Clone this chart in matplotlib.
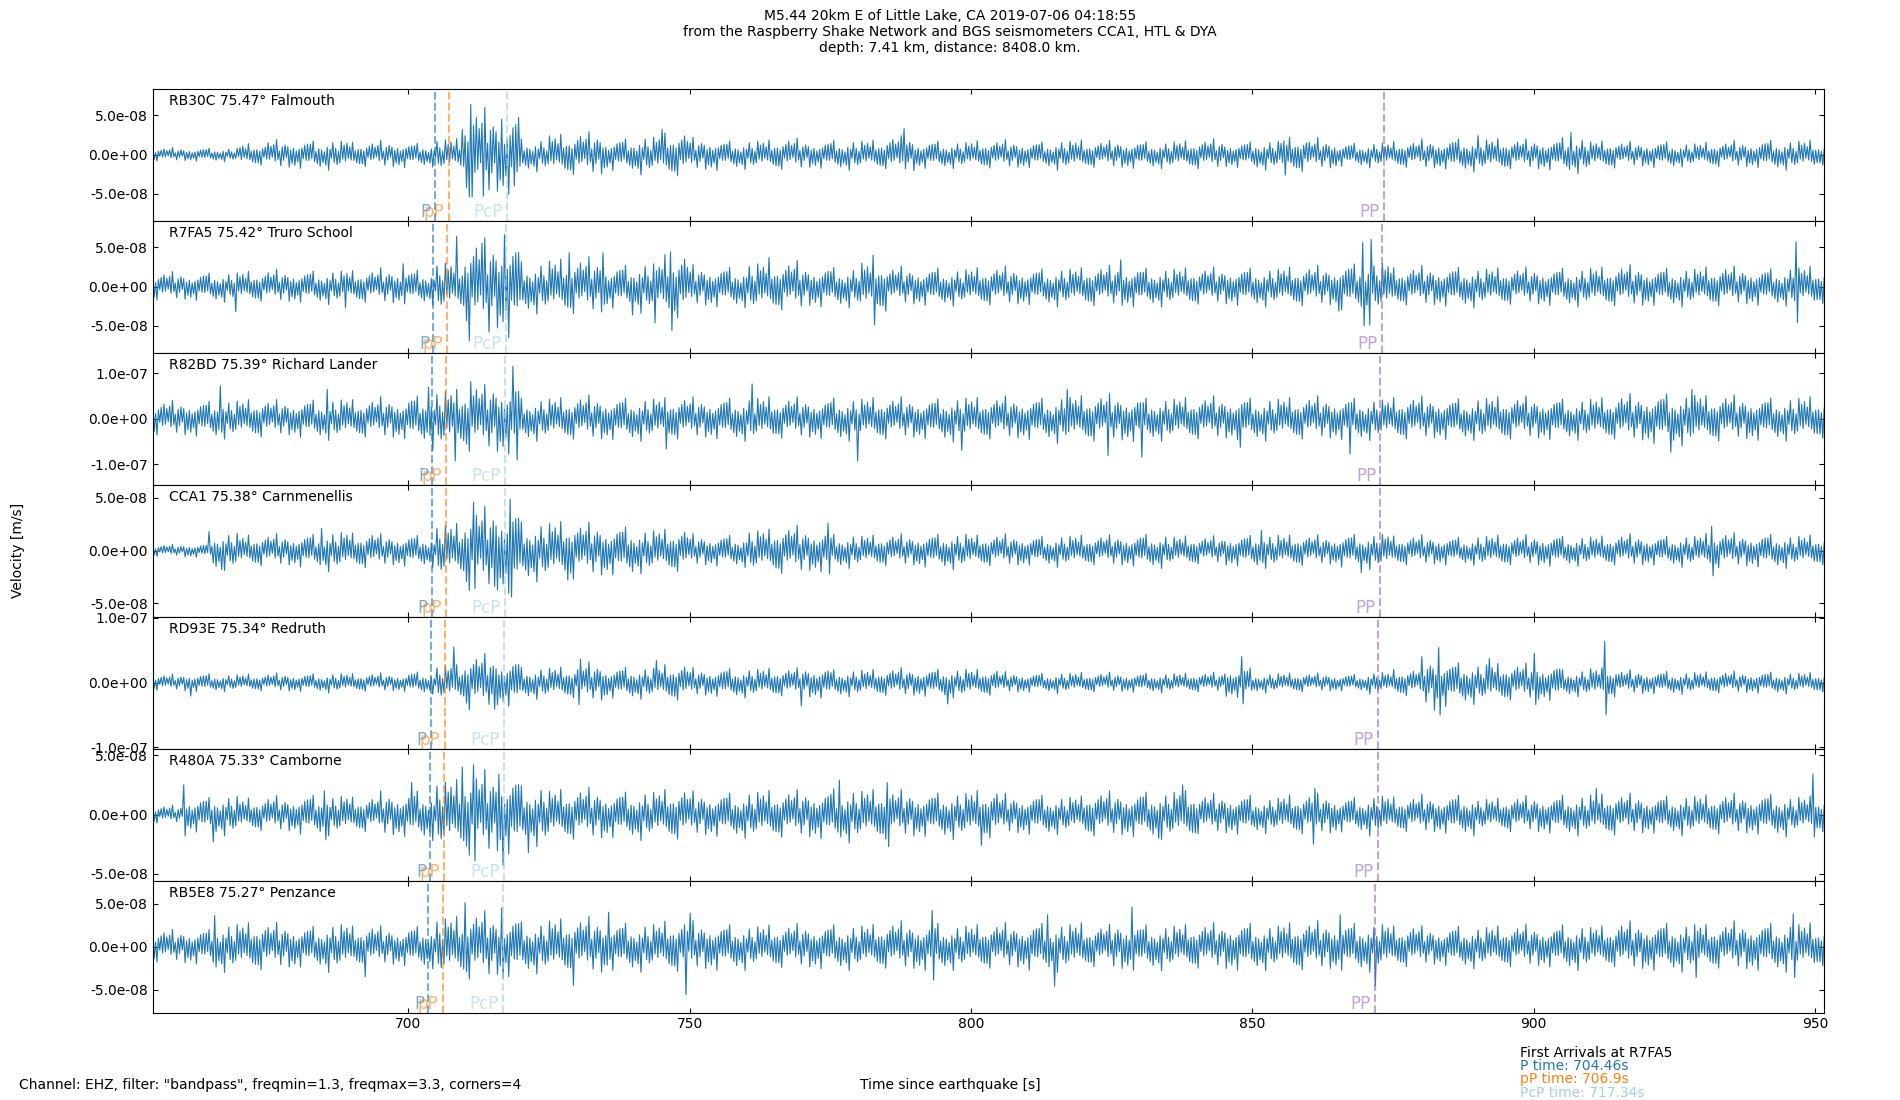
import numpy as np
import matplotlib
matplotlib.use("Agg")
import matplotlib.pyplot as plt
from matplotlib.ticker import FormatStrFormatter, MultipleLocator

# Stations, top to bottom
stations = ["RB30C", "R7FA5", "R82BD", "CCA1", "RD93E", "R480A", "RB5E8"]
distances = [75.47, 75.42, 75.39, 75.38, 75.34, 75.33, 75.27]
places = ["Falmouth", "Truro School", "Richard Lander", "Carnmenellis", "Redruth", "Camborne", "Penzance"]

# Phase arrival times [s] (dashed lines)
p_times = [704.75, 704.46, 704.29, 704.23, 704.00, 703.94, 703.59]
pp_depth_times = [707.17, 706.90, 706.74, 706.68, 706.47, 706.41, 706.09]
pcp_times = [717.53, 717.34, 717.23, 717.19, 717.04, 717.01, 716.79]
pp_times = [873.42, 873.00, 872.75, 872.67, 872.34, 872.25, 871.76]

# y-limit and tick step per panel, in 1e-8 m/s
y_limits = [8.4, 8.4, 14.5, 6.26, 10.2, 5.56, 7.68]
y_steps = [5, 5, 10, 5, 10, 5, 5]

# Trace envelope: peak velocity (1e-8 m/s) in 5 s windows starting at 655 s
env_start = 655.0
env_step = 5.0
env_rb30c = [0.9, 0.9, 0.9, 1.5, 1.9, 1.9, 2.0, 1.7, 1.8, 1.6,
             2.2, 6.0, 5.5, 2.2, 2.8, 2.9, 2.2, 2.6, 3.0, 2.2,
             1.9, 2.0, 2.1, 1.9, 2.0, 2.0, 2.4, 1.9, 1.8, 1.9,
             1.9, 1.8, 2.0, 1.8, 1.9, 1.8, 1.9, 2.0, 1.8, 2.0,
             2.4, 2.0, 1.6, 1.7, 1.8, 2.0, 2.2, 2.2, 2.0, 2.1,
             2.4, 1.9, 1.7, 1.8, 1.6, 1.7, 1.8, 2.0, 2.0, 1.5]
env_r7fa5 = [1.9, 1.9, 2.0, 2.1, 2.2, 2.2, 2.3, 2.2, 2.4, 2.3,
             3.5, 6.2, 6.2, 3.5, 3.8, 3.8, 3.0, 3.4, 4.4, 2.8,
             2.7, 3.4, 3.3, 2.8, 2.7, 3.5, 2.6, 2.6, 2.5, 2.6,
             2.6, 2.5, 2.6, 2.7, 2.8, 2.6, 2.6, 2.5, 2.6, 2.6,
             2.7, 2.7, 3.2, 3.5, 2.6, 2.7, 2.7, 2.6, 2.5, 2.6,
             2.6, 2.7, 2.8, 2.6, 2.6, 2.7, 2.6, 2.5, 2.8, 2.4]
env_r82bd = [4.0, 4.2, 4.5, 4.5, 4.2, 4.5, 4.8, 4.5, 4.8, 5.5,
             7.0, 8.0, 8.5, 5.0, 5.0, 5.2, 5.0, 5.0, 5.0, 4.8,
             5.0, 5.2, 4.8, 4.8, 5.0, 5.0, 4.8, 4.8, 5.2, 5.0,
             5.0, 5.0, 5.5, 5.5, 5.5, 5.0, 5.0, 5.0, 5.0, 5.0,
             5.0, 5.0, 5.0, 4.8, 5.0, 5.0, 4.8, 5.2, 5.0, 5.0,
             4.8, 5.0, 5.5, 6.0, 6.0, 5.5, 5.2, 5.0, 5.2, 4.8]
env_cca1 = [0.6, 0.7, 1.9, 1.6, 1.6, 1.7, 2.0, 1.8, 1.6, 1.6,
            2.8, 4.2, 4.4, 3.0, 3.0, 2.7, 2.5, 2.2, 2.2, 1.6,
            1.6, 2.2, 2.4, 2.2, 1.7, 1.6, 1.6, 1.7, 1.8, 1.6,
            1.6, 1.5, 1.6, 1.5, 1.6, 1.7, 1.5, 1.4, 1.6, 1.7,
            1.6, 1.5, 1.7, 1.8, 1.5, 1.5, 1.4, 1.6, 1.5, 1.6,
            1.5, 1.5, 1.6, 1.5, 1.6, 1.8, 1.7, 1.7, 1.6, 1.5]
env_rd93e = [1.3, 1.5, 1.4, 1.4, 1.5, 1.5, 1.6, 1.5, 1.5, 1.8,
             3.0, 4.5, 4.0, 2.6, 2.6, 3.2, 2.6, 2.6, 3.0, 2.3,
             2.4, 2.4, 2.3, 2.6, 2.2, 2.2, 2.3, 2.3, 2.4, 2.2,
             1.7, 1.6, 1.7, 1.6, 1.6, 1.6, 1.6, 1.6, 2.5, 1.6,
             1.6, 1.5, 1.4, 1.8, 2.2, 4.0, 3.4, 3.2, 3.0, 3.0,
             2.2, 2.5, 2.0, 1.9, 1.8, 1.8, 1.8, 1.8, 1.7, 1.6]
env_r480a = [0.8, 1.6, 1.8, 1.5, 1.6, 1.8, 1.8, 1.6, 2.0, 2.2,
             3.2, 3.8, 3.6, 2.7, 2.3, 2.3, 2.1, 2.2, 2.3, 2.0,
             2.0, 2.2, 2.1, 2.2, 2.4, 2.3, 2.1, 2.0, 2.1, 2.2,
             1.8, 1.8, 1.7, 2.0, 2.0, 2.1, 2.2, 1.8, 1.8, 1.6,
             1.8, 1.8, 1.6, 1.8, 1.6, 1.7, 1.8, 1.5, 1.6, 1.7,
             1.8, 1.9, 1.8, 1.7, 1.8, 1.8, 1.8, 1.9, 1.7, 1.6]
env_rb5e8 = [2.0, 2.2, 3.0, 3.0, 2.8, 2.6, 3.0, 2.6, 2.4, 2.6,
             3.8, 4.2, 3.8, 3.2, 3.5, 3.5, 3.0, 3.0, 3.2, 3.0,
             2.8, 2.7, 2.7, 2.8, 2.8, 2.8, 3.0, 3.0, 2.8, 2.8,
             2.8, 3.0, 3.0, 2.6, 3.0, 2.8, 2.8, 2.8, 3.0, 2.8,
             3.0, 3.0, 3.0, 3.0, 2.6, 2.4, 2.6, 2.6, 2.6, 2.6,
             2.8, 2.6, 3.0, 3.0, 3.0, 2.8, 3.0, 3.0, 3.0, 2.5]

# Largest single swings: (time s, velocity 1e-8 m/s)
spikes_rb30c = [(709.5, 3.2), (710.9, 6.4), (711.6, -5.4), (713.2, -5.3), (716.8, 4.5),
                (719.0, -4.0), (719.4, 4.7), (745.2, 3.2), (788.3, 3.3), (856.1, -2.6),
                (861.6, 2.2), (890.2, 2.4), (906.7, 2.8)]
spikes_r7fa5 = [(669.6, -3.2), (688.8, -2.7), (699.2, 2.9), (708.6, 6.4), (711.1, -6.9),
                (713.0, 5.5), (714.5, -5.8), (717.3, 6.6), (717.7, -6.5), (728.7, 4.3),
                (734.5, 4.3), (739.8, -3.6), (744.1, -4.6), (746.5, 4.4), (746.8, -5.6),
                (764.2, 3.7), (782.5, 4.0), (782.8, -4.9), (826.4, 3.4), (865.3, -3.1),
                (869.4, 5.6), (869.8, -5.0), (870.8, -4.9), (871.2, 6.0), (946.4, 5.7),
                (946.7, -4.6)]
spikes_r82bd = [(666.4, 7.2), (685.7, 6.4), (703.8, 6.9), (704.5, -7.0), (708.2, -9.3),
                (710.9, 8.1), (713.5, 7.5), (718.5, 11.5), (719.5, -9.1), (745.7, -6.7),
                (761.1, 7.6), (779.8, -9.3), (798.6, -7.0), (817.3, 6.4), (824.2, -8.1),
                (830.6, -8.5), (848.0, -6.3), (867.3, -7.8), (924.4, -7.4), (927.9, 6.4)]
spikes_cca1 = [(664.7, 1.8), (666.9, -1.8), (684.7, 2.1), (711.6, 4.6), (712.0, -3.6),
               (715.5, -3.4), (718.1, 4.9), (718.5, -4.4), (728.5, -2.8), (774.6, 2.6),
               (774.9, -2.2), (851.8, 1.9), (869.2, -2.1), (931.7, 2.3), (932.0, -2.4)]
spikes_rd93e = [(661.2, -2.1), (708.2, 5.5), (710.9, -4.2), (715.2, -4.1), (730.2, -3.4),
                (730.6, 3.6), (744.3, 3.4), (769.8, -3.6), (795.8, -3.3), (848.0, 4.0),
                (848.3, -3.3), (882.2, -4.3), (883.1, 5.4), (883.4, -5.0), (891.9, 3.7),
                (900.3, 4.5), (900.6, -3.4), (912.6, 6.4), (912.9, -5.0)]
spikes_r480a = [(660.0, 2.5), (660.3, -1.8), (665.3, -2.3), (685.0, 2.0), (685.3, -2.1),
                (700.4, 2.7), (709.5, 4.0), (711.4, 4.2), (711.8, -3.9), (716.3, 3.4),
                (716.7, -4.3), (721.5, -3.2), (776.8, 2.9), (785.0, 2.7), (785.3, -2.7),
                (801.8, -2.6), (833.2, -2.0), (837.8, 2.5), (860.8, -2.5), (861.1, 2.2),
                (911.2, 2.2), (949.4, 3.4), (949.7, -1.9)]
spikes_rb5e8 = [(665.7, 3.6), (692.3, -3.5), (710.3, 5.1), (716.8, 4.5), (717.1, -3.7),
                (729.4, -4.5), (735.6, 4.0), (749.6, -5.6), (749.9, 3.9), (793.3, 4.2),
                (793.6, -3.9), (813.7, 3.7), (814.8, -4.6), (828.7, 4.6), (865.6, 3.7),
                (872.1, -4.6), (928.8, -3.6), (946.1, 3.8), (946.4, -3.6)]

envelopes = [env_rb30c, env_r7fa5, env_r82bd, env_cca1, env_rd93e, env_r480a, env_rb5e8]
spikes = [spikes_rb30c, spikes_r7fa5, spikes_r82bd, spikes_cca1, spikes_rd93e, spikes_r480a, spikes_rb5e8]

# relative swing sizes used to fill the envelope between the read peaks
carrier = [0.40, 0.70, 0.27, 0.90, 0.48, 0.21, 0.62, 0.38, 0.79, 0.31, 0.55, 0.17, 0.67,
           0.45, 1.0, 0.33, 0.24, 0.75, 0.51, 0.39, 0.64, 0.20, 0.53, 0.85, 0.29, 0.59,
           0.42, 0.72, 0.24, 0.49, 0.35, 0.92, 0.44, 0.28, 0.62, 0.38, 0.69]
half_period = 0.25
t_start, t_end = 654.6, 951.5

ref_station = "R7FA5"
ref_p, ref_pp, ref_pcp = 704.46, 706.9, 717.34

phase_colors = {"P": "#1f77b4", "pP": "#ff7f0e", "PcP": "#a6cee3", "PP": "#9467bd"}


def build_trace(env, spk):
    t = np.arange(t_start, t_end + half_period, half_period)
    k = np.arange(len(t))
    sign = np.where(k % 2 == 0, 1.0, -1.0)
    win = np.clip(((t - env_start) // env_step).astype(int), 0, len(env) - 1)
    v = sign * np.array(carrier)[k % len(carrier)] * np.array(env)[win]
    for ts, vs in spk:
        i = int(round((ts - t_start) / half_period))
        if (i % 2 == 0) != (vs > 0):
            i = i + 1 if ts > t[i] else i - 1
        v[i] = vs
    return t, v * 1e-8


fig, axes = plt.subplots(len(stations), 1, sharex=True, figsize=(19, 11), dpi=100)
fig.subplots_adjust(left=0.0804, right=0.9598, top=0.9195, bottom=0.0795, hspace=0)

for n, ax in enumerate(axes):
    t, v = build_trace(envelopes[n], spikes[n])
    ax.plot(t, v, color="#1f77b4", lw=0.8)
    lim = y_limits[n] * 1e-8
    ax.set_ylim(-lim, lim)
    ax.yaxis.set_major_locator(MultipleLocator(y_steps[n] * 1e-8))
    ax.yaxis.set_major_formatter(FormatStrFormatter("%.1e"))
    ax.tick_params(direction="in", top=True, right=True, labelsize=10)
    ax.text(0.01, 0.96, f"{stations[n]} {distances[n]}\u00b0 {places[n]}", transform=ax.transAxes,
            ha="left", va="top", fontsize=10)
    for name, times in [("P", p_times), ("pP", pp_depth_times), ("PcP", pcp_times), ("PP", pp_times)]:
        ax.axvline(times[n], color=phase_colors[name], ls="--", lw=1.5, alpha=0.6)
        ax.annotate(name, (times[n], 0), xycoords=("data", "axes fraction"), xytext=(-3, 0),
                    textcoords="offset points", ha="right", va="bottom", fontsize=12,
                    color=phase_colors[name], alpha=0.6)

axes[-1].set_xlim(t_start, t_end)
axes[-1].xaxis.set_major_locator(MultipleLocator(50))

fig.suptitle("M5.44 20km E of Little Lake, CA 2019-07-06 04:18:55\n"
             "from the Raspberry Shake Network and BGS seismometers CCA1, HTL & DYA\n"
             "depth: 7.41 km, distance: 8408.0 km.", y=0.992, va="top", fontsize=10)
fig.text(0.0095, 0.5, "Velocity [m/s]", rotation=90, ha="center", va="center", fontsize=10)
fig.text(0.5, 0.01, "Time since earthquake [s]", ha="center", va="baseline", fontsize=10)
fig.text(0.01, 0.01, 'Channel: EHZ, filter: "bandpass", freqmin=1.3, freqmax=3.3, corners=4',
         ha="left", va="baseline", fontsize=10)
fig.text(0.8, 0.039, f"First Arrivals at {ref_station}", fontsize=10, va="baseline")
fig.text(0.8, 0.027, f"P time: {ref_p}s", fontsize=10, va="baseline", color=phase_colors["P"])
fig.text(0.8, 0.015, f"pP time: {ref_pp}s", fontsize=10, va="baseline", color=phase_colors["pP"])
fig.text(0.8, 0.003, f"PcP time: {ref_pcp}s", fontsize=10, va="baseline", color=phase_colors["PcP"])

fig.savefig("out.png", dpi=100)
